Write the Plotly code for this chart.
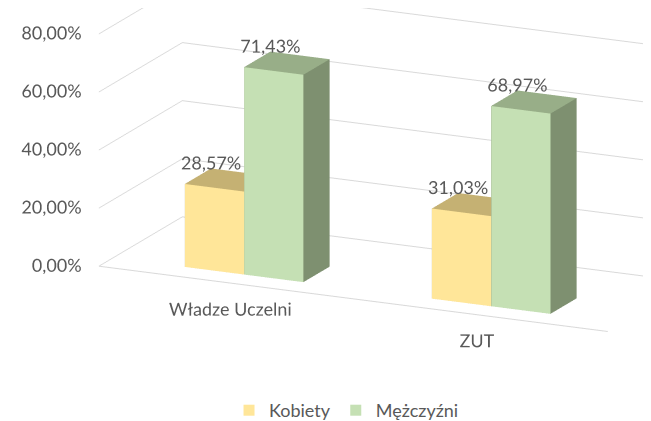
import plotly.graph_objects as go

categories = ["Władze Uczelni", "ZUT"]
series_names = ["Kobiety", "Mężczyźni"]
kobiety = [0.2857, 0.3103]
mezczyzni = [0.7143, 0.6897]
value_labels = [["28,57%", "31,03%"], ["71,43%", "68,97%"]]
tick_vals = [0.0, 0.2, 0.4, 0.6, 0.8]
tick_text = ["0,00%", "20,00%", "40,00%", "60,00%", "80,00%"]

front_colors = ["#FFE699", "#C5E0B4"]
top_colors = ["#C5B173", "#98AE88"]
side_colors = ["#B8A66A", "#7E9070"]

FONT = "Lato"
TXT = "#595959"

bar_w = 0.24
y_range = [0, 0.7]
y0, y1 = 0.12, 0.34
x_range = [-0.53, 1.53]
z_range = [-0.12, 0.8]

fig = go.Figure()

all_series = [kobiety, mezczyzni]
for s, vals in enumerate(all_series):
    X, Y, Z, I, J, K, FC = [], [], [], [], [], [], []
    for c, v in enumerate(vals):
        xa = c - bar_w + s * bar_w
        xb = xa + bar_w
        base = len(X)
        for (xx, yy, zz) in [(xa, y0, 0), (xb, y0, 0), (xb, y1, 0), (xa, y1, 0),
                             (xa, y0, v), (xb, y0, v), (xb, y1, v), (xa, y1, v)]:
            X.append(xx); Y.append(yy); Z.append(zz)
        faces = [
            ((0, 1, 5), front_colors[s]), ((0, 5, 4), front_colors[s]),
            ((4, 5, 6), top_colors[s]), ((4, 6, 7), top_colors[s]),
            ((1, 2, 6), side_colors[s]), ((1, 6, 5), side_colors[s]),
            ((0, 3, 7), side_colors[s]), ((0, 7, 4), side_colors[s]),
            ((3, 2, 6), side_colors[s]), ((3, 6, 7), side_colors[s]),
            ((0, 1, 2), side_colors[s]), ((0, 2, 3), side_colors[s]),
        ]
        for (a, b, cc), col in faces:
            I.append(base + a); J.append(base + b); K.append(base + cc); FC.append(col)
    fig.add_trace(go.Mesh3d(x=X, y=Y, z=Z, i=I, j=J, k=K, facecolor=FC,
                            flatshading=True, showlegend=False, hoverinfo="skip",
                            lighting=dict(ambient=1, diffuse=0, specular=0, roughness=1, fresnel=0)))

for s, vals in enumerate(all_series):
    fig.add_trace(go.Scatter3d(
        x=[c - bar_w + s * bar_w + bar_w / 2 for c in range(len(vals))],
        y=[y0 - 0.03] * len(vals),
        z=vals, mode="text", text=value_labels[s], textposition="top center",
        textfont=dict(family=FONT, size=18, color=TXT), showlegend=False, hoverinfo="skip"))

fig.add_trace(go.Scatter3d(
    x=[x_range[0]] * len(tick_vals), y=[y_range[0]] * len(tick_vals), z=tick_vals,
    mode="text", text=[t + "    " for t in tick_text], textposition="middle left",
    textfont=dict(family=FONT, size=18, color=TXT), showlegend=False, hoverinfo="skip"))

fig.add_trace(go.Scatter3d(
    x=[0, 1], y=[y_range[0]] * 2, z=[-0.09] * 2,
    mode="text", text=categories, textposition="middle center",
    textfont=dict(family=FONT, size=18, color=TXT), showlegend=False, hoverinfo="skip"))

fig.add_trace(go.Scatter3d(x=x_range, y=[y_range[0]] * 2, z=[0, 0], mode="lines",
                           line=dict(color="#D9D9D9", width=2), showlegend=False, hoverinfo="skip"))

for s in range(2):
    fig.add_trace(go.Scatter3d(x=[None], y=[None], z=[None], mode="markers", name=series_names[s],
                               marker=dict(symbol="square", size=11, color=front_colors[s])))

fig.update_layout(
    width=651, height=421, margin=dict(l=0, r=0, t=0, b=0),
    paper_bgcolor="white",
    font=dict(family=FONT, size=18, color=TXT),
    legend=dict(orientation="h", x=0.52, xanchor="center", y=0.0, yanchor="bottom",
                font=dict(family=FONT, size=18, color=TXT), itemwidth=30),
    scene=dict(
        domain=dict(x=[0, 1], y=[0, 1]),
        xaxis=dict(range=x_range, showgrid=False, showline=False, zeroline=False, showbackground=False,
                   title="", showticklabels=False, showspikes=False, ticks=""),
        yaxis=dict(range=y_range, showgrid=False, showline=False, zeroline=False,
                   showticklabels=False, showbackground=False, title="", showspikes=False, ticks=""),
        zaxis=dict(range=z_range, tickvals=tick_vals, showgrid=True, gridcolor="#D9D9D9", gridwidth=2,
                   showline=False, zeroline=False, showticklabels=False, showbackground=False,
                   title="", showspikes=False, ticks=""),
        aspectmode="manual", aspectratio=dict(x=2.667, y=0.939, z=1.32),
        camera=dict(eye=dict(x=0.546, y=-1.865, z=0.338), center=dict(x=-0.264, y=-0.126, z=-0.212),
                    up=dict(x=0, y=0, z=1), projection=dict(type="orthographic")),
    ),
)

fig.write_html("out.html")
